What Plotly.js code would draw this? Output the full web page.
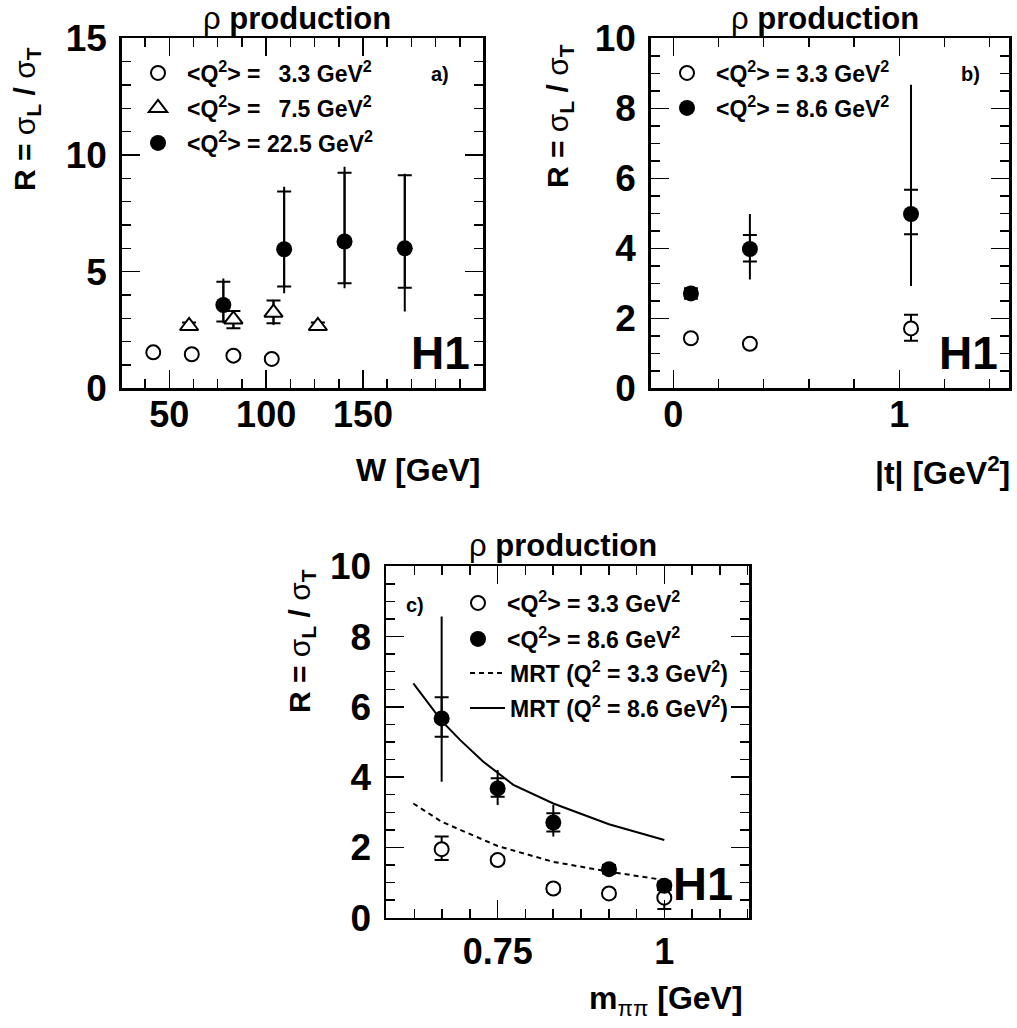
<!DOCTYPE html>
<html>
<head>
<meta charset="utf-8">
<script src="https://cdn.plot.ly/plotly-3.0.1.min.js"></script>
<style>html,body{margin:0;padding:0;background:#fff;}#chart{width:1017px;height:1028px;}</style>
</head>
<body>
<div id="chart"></div>
<script>
// ---------- Panel a: R vs W ----------
const W_q33 = [41.7, 61.6, 83.1, 102.9];
const R_W_q33 = [1.54, 1.46, 1.40, 1.26];
const R_W_q33_statUp = [0.1, 0.1, 0.1, 0.1];
const R_W_q33_statDn = [0.1, 0.1, 0.1, 0.1];

const W_q75 = [60.2, 83.1, 103.8, 126.7];
const R_W_q75 = [2.67, 2.95, 3.24, 2.67];
const R_W_q75_statUp = [0.15, 0.36, 0.52, 0.15];
const R_W_q75_statDn = [0.15, 0.38, 0.45, 0.15];
const R_W_q75_totUp = [0.15, 0.38, 0.55, 0.15];
const R_W_q75_totDn = [0.15, 0.40, 0.53, 0.15];

const W_q225 = [77.9, 109.3, 140.5, 171.6];
const R_W_q225 = [3.57, 5.96, 6.29, 6.00];
const R_W_q225_statUp = [1.00, 2.47, 2.95, 3.13];
const R_W_q225_statDn = [0.71, 1.60, 1.79, 1.69];
const R_W_q225_totUp = [1.14, 2.68, 3.21, 3.19];
const R_W_q225_totDn = [0.78, 1.89, 2.00, 2.71];

// ---------- Panel b: R vs |t| ----------
const t_vals = [0.078, 0.339, 1.052];
const R_t_q33 = [1.43, 1.27, 1.71];
const R_t_q33_statUp = [0.1, 0.1, 0.39];
const R_t_q33_statDn = [0.1, 0.1, 0.35];
const R_t_q86 = [2.71, 3.98, 4.98];
const R_t_q86_statUp = [0.15, 0.40, 0.69];
const R_t_q86_statDn = [0.15, 0.36, 0.58];
const R_t_q86_totUp = [0.15, 1.00, 3.69];
const R_t_q86_totDn = [0.15, 0.87, 2.06];

// ---------- Panel c: R vs m_pipi ----------
const m_vals = [0.666, 0.750, 0.8335, 0.917, 1.000];
const R_m_q33 = [1.95, 1.64, 0.83, 0.69, 0.57];
const R_m_q33_statUp = [0.36, 0.1, 0.1, 0.1, 0.22];
const R_m_q33_statDn = [0.31, 0.1, 0.1, 0.1, 0.32];
const R_m_q86 = [5.67, 3.68, 2.71, 1.38, 0.91];
const R_m_q86_statUp = [0.60, 0.29, 0.26, 0.12, 0.12];
const R_m_q86_statDn = [0.52, 0.24, 0.26, 0.12, 0.12];
const R_m_q86_totUp = [2.90, 0.52, 0.50, 0.12, 0.12];
const R_m_q86_totDn = [1.80, 0.47, 0.40, 0.12, 0.12];

// MRT model curves
const mrt33_m = [0.6235, 0.666, 0.750, 0.8335, 0.917, 1.000];
const mrt33_R = [3.25, 2.73, 2.04, 1.59, 1.31, 1.07];
const mrt86_m = [0.6235, 0.666, 0.6935, 0.7285, 0.7735, 0.8335, 0.917, 1.000];
const mrt86_R = [6.67, 5.60, 5.06, 4.44, 3.78, 3.25, 2.66, 2.21];

// Labels
const legA = ['&lt;Q<sup>2</sup>&gt; =\u2002\u00a03.3 GeV<sup>2</sup>', '&lt;Q<sup>2</sup>&gt; =\u2002\u00a07.5 GeV<sup>2</sup>', '&lt;Q<sup>2</sup>&gt; = 22.5 GeV<sup>2</sup>'];
const legB = ['&lt;Q<sup>2</sup>&gt; = 3.3 GeV<sup>2</sup>', '&lt;Q<sup>2</sup>&gt; = 8.6 GeV<sup>2</sup>'];
const legC = ['&lt;Q<sup>2</sup>&gt; = 3.3 GeV<sup>2</sup>', '&lt;Q<sup>2</sup>&gt; = 8.6 GeV<sup>2</sup>', 'MRT (Q<sup>2</sup> = 3.3 GeV<sup>2</sup>)', 'MRT (Q<sup>2</sup> = 8.6 GeV<sup>2</sup>)'];
const titleText = '<span style="font-weight:normal">ρ</span> production';
const yTitleText = 'R = <span style="font-weight:normal">σ</span><sub>L</sub> / <span style="font-weight:normal">σ</span><sub>T</sub>';
const xTitles = ['W [GeV]', '|t| [GeV<sup>2</sup>]', 'm<sub><span style="font-weight:normal">ππ</span></sub> [GeV]'];
const panelTags = ['a)', 'b)', 'c)'];

// ---------- helpers ----------
const FONT = 'Liberation Sans, Arial, Helvetica, sans-serif';
const PW = 1017, PH = 1028;
const px = v => v / PW;
const py = v => 1 - v / PH;

function errTrace(x, y, up, dn, xa, ya, cap) {
  return {type: 'scatter', mode: 'markers', x: x, y: y, xaxis: xa, yaxis: ya,
    marker: {size: 1, color: 'rgba(0,0,0,0)'},
    error_y: {type: 'data', symmetric: false, array: up, arrayminus: dn, width: cap, thickness: 2, color: '#000'},
    showlegend: false, hoverinfo: 'skip'};
}
function markTrace(x, y, xa, ya, kind, name, leg) {
  let marker;
  if (kind === 'open') marker = {symbol: 'circle', size: 14, color: '#fff', line: {color: '#000', width: 2}};
  else if (kind === 'tri') marker = {symbol: 'triangle-up', size: 16, color: '#fff', line: {color: '#000', width: 2}};
  else marker = {symbol: 'circle', size: 16, color: '#000', line: {color: '#000', width: 0}};
  return {type: 'scatter', mode: 'markers', x: x, y: y, xaxis: xa, yaxis: ya, marker: marker,
    name: name, legend: leg, showlegend: true, hoverinfo: 'skip'};
}

const traces = [
  // panel a
  errTrace(W_q33, R_W_q33, R_W_q33_statUp, R_W_q33_statDn, 'x', 'y', 7),
  errTrace(W_q75, R_W_q75, R_W_q75_totUp, R_W_q75_totDn, 'x', 'y', 0),
  errTrace(W_q75, R_W_q75, R_W_q75_statUp, R_W_q75_statDn, 'x', 'y', 7),
  errTrace(W_q225, R_W_q225, R_W_q225_totUp, R_W_q225_totDn, 'x', 'y', 0),
  errTrace(W_q225, R_W_q225, R_W_q225_statUp, R_W_q225_statDn, 'x', 'y', 7),
  markTrace(W_q33, R_W_q33, 'x', 'y', 'open', legA[0], 'legend'),
  markTrace(W_q75, R_W_q75, 'x', 'y', 'tri', legA[1], 'legend2'),
  markTrace(W_q225, R_W_q225, 'x', 'y', 'full', legA[2], 'legend3'),
  // panel b
  errTrace(t_vals, R_t_q33, R_t_q33_statUp, R_t_q33_statDn, 'x2', 'y2', 7),
  errTrace(t_vals, R_t_q86, R_t_q86_totUp, R_t_q86_totDn, 'x2', 'y2', 0),
  errTrace(t_vals, R_t_q86, R_t_q86_statUp, R_t_q86_statDn, 'x2', 'y2', 7),
  markTrace(t_vals, R_t_q33, 'x2', 'y2', 'open', legB[0], 'legend4'),
  markTrace(t_vals, R_t_q86, 'x2', 'y2', 'full', legB[1], 'legend5'),
  // panel c
  {type: 'scatter', mode: 'lines', x: mrt33_m, y: mrt33_R, xaxis: 'x3', yaxis: 'y3',
   line: {color: '#000', width: 2, dash: '5px,4px'}, name: legC[2], legend: 'legend8', showlegend: true, hoverinfo: 'skip'},
  {type: 'scatter', mode: 'lines', x: mrt86_m, y: mrt86_R, xaxis: 'x3', yaxis: 'y3',
   line: {color: '#000', width: 2}, name: legC[3], legend: 'legend9', showlegend: true, hoverinfo: 'skip'},
  errTrace(m_vals, R_m_q33, R_m_q33_statUp, R_m_q33_statDn, 'x3', 'y3', 7),
  errTrace(m_vals, R_m_q86, R_m_q86_totUp, R_m_q86_totDn, 'x3', 'y3', 0),
  errTrace(m_vals, R_m_q86, R_m_q86_statUp, R_m_q86_statDn, 'x3', 'y3', 7),
  markTrace(m_vals, R_m_q33, 'x3', 'y3', 'open', legC[0], 'legend6'),
  markTrace(m_vals, R_m_q86, 'x3', 'y3', 'full', legC[1], 'legend7')
];

const MINOR = {ticks: 'inside', ticklen: 9, tickwidth: 1.5, tickcolor: '#000', showgrid: false, tickmode: 'linear'};
function axisBase(extra, minorExtra, fsize) {
  return Object.assign({
    showline: true, linewidth: 2.5, linecolor: '#000', mirror: 'allticks',
    ticks: 'inside', ticklen: 18, tickwidth: 1.5, tickcolor: '#000',
    showgrid: false, zeroline: false, fixedrange: true,
    tickfont: {family: FONT, size: fsize, color: '#000', weight: 'bold'},
    minor: Object.assign({}, MINOR, minorExtra)
  }, extra);
}

const yA = [py(388.3), py(38.3)];
const yC = [py(917.7), py(566.3)];

const layout = {
  width: PW, height: PH,
  margin: {l: 0, r: 0, t: 0, b: 0, pad: 0},
  paper_bgcolor: '#fff', plot_bgcolor: '#fff',
  font: {family: FONT, color: '#000'},
  xaxis: axisBase({domain: [px(121.7), px(483)], anchor: 'y', range: [25.4, 212], tickmode: 'array', tickvals: [50, 100, 150], ticklabelstandoff: -7},
    {tick0: 0, dtick: 12.5}, 36),
  yaxis: axisBase({domain: yA, anchor: 'x', range: [0, 15], tickmode: 'linear', tick0: 0, dtick: 5, ticklabelstandoff: 5},
    {tick0: 0, dtick: 1}, 37),
  xaxis2: axisBase({domain: [px(650.7), px(1009.3)], anchor: 'y2', range: [-0.1, 1.487], tickmode: 'linear', tick0: 0, dtick: 1, ticklabelstandoff: -7},
    {tick0: 0, dtick: 0.2}, 36),
  yaxis2: axisBase({domain: yA, anchor: 'x2', range: [0, 10], tickmode: 'linear', tick0: 0, dtick: 2, ticklabelstandoff: 5},
    {tick0: 0, dtick: 0.5}, 37),
  xaxis3: axisBase({domain: [px(386), px(749.3)], anchor: 'y3', range: [0.5825, 1.1275], tickmode: 'linear', tick0: 0, dtick: 0.25, tickformat: '.2~f', ticklabelstandoff: 1},
    {tick0: 0.75, dtick: 0.25 / 6}, 36),
  yaxis3: axisBase({domain: yC, anchor: 'x3', range: [0, 10], tickmode: 'linear', tick0: 0, dtick: 2, ticklabelstandoff: 5},
    {tick0: 0, dtick: 0.5}, 37),
  annotations: [],
  showlegend: true
};

// legends: one per entry for exact placement
const legFont = {family: FONT, size: 23, color: '#000', weight: 'bold'};
function leg(symX, rowY, iw) {
  iw = iw || 48;
  return {x: px(symX - iw / 2 - 5), y: py(rowY), xanchor: 'left', yanchor: 'middle', bgcolor: 'rgba(0,0,0,0)',
    borderwidth: 0, itemwidth: iw, font: legFont, itemclick: false, itemdoubleclick: false};
}
layout.legend = leg(158, 73);
layout.legend2 = leg(158, 108);
layout.legend3 = leg(158, 143);
layout.legend4 = leg(687, 73);
layout.legend5 = leg(687, 108);
layout.legend6 = leg(478, 603);
layout.legend7 = leg(478, 639);
layout.legend8 = {x: px(465), y: py(673), xanchor: 'left', yanchor: 'middle', bgcolor: 'rgba(0,0,0,0)', borderwidth: 0, itemwidth: 35, font: legFont};
layout.legend9 = {x: px(465), y: py(708), xanchor: 'left', yanchor: 'middle', bgcolor: 'rgba(0,0,0,0)', borderwidth: 0, itemwidth: 35, font: legFont};

function ann(text, x, y, size, opts) {
  return Object.assign({xref: 'paper', yref: 'paper', x: px(x), y: py(y), text: text, showarrow: false, borderpad: 0,
    xanchor: 'center', yanchor: 'middle', font: {family: FONT, size: size, color: '#000', weight: 'bold'}}, opts || {});
}
// panel titles
layout.annotations.push(ann(titleText, 297, 18, 31));
layout.annotations.push(ann(titleText, 825, 18, 31));
layout.annotations.push(ann(titleText, 563, 545, 31));
// y titles
layout.annotations.push(ann(yTitleText, 26, 119, 30, {textangle: -90}));
layout.annotations.push(ann(yTitleText, 559, 116, 30, {textangle: -90}));
layout.annotations.push(ann(yTitleText, 301, 641, 30, {textangle: -90}));
// x titles
layout.annotations.push(ann(xTitles[0], 481, 470, 32, {xanchor: 'right'}));
layout.annotations.push(ann(xTitles[1], 1011, 471, 32, {xanchor: 'right'}));
layout.annotations.push(ann(xTitles[2], 744, 1000, 32, {xanchor: 'right'}));
// H1 logos
layout.annotations.push(ann('H1', 440, 353, 46));
layout.annotations.push(ann('H1', 968, 353, 46));
layout.annotations.push(ann('H1', 703, 883, 47));
// panel tags
layout.annotations.push(ann(panelTags[0], 440, 74, 20));
layout.annotations.push(ann(panelTags[1], 970, 74, 20));
layout.annotations.push(ann(panelTags[2], 415, 605, 20));

Plotly.newPlot('chart', traces, layout, {staticPlot: true, displayModeBar: false});
</script>
</body>
</html>
